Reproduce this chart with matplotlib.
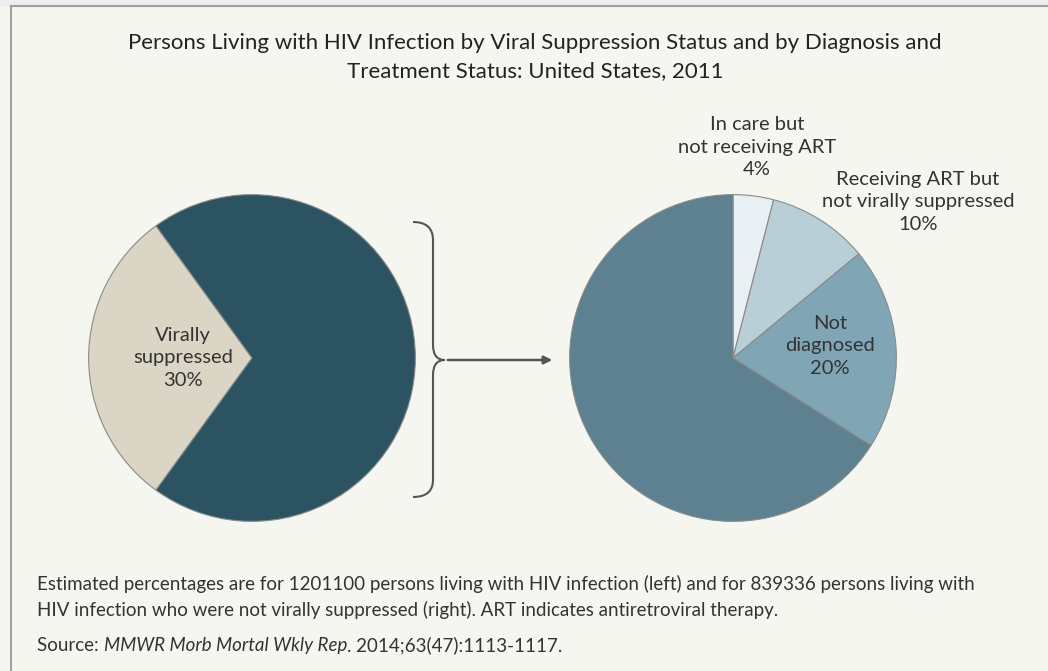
import matplotlib.pyplot as plt
from matplotlib.path import Path
from matplotlib.patches import PathPatch, Rectangle

# data
left_labels = ['Virally\nsuppressed\n30%', '']
left_values = [30, 70]
left_colors = ['#dbd5c6', '#2c5361']

right_labels = ['In care but\nnot receiving ART\n4%',
                'Receiving ART but\nnot virally suppressed\n10%',
                'Not\ndiagnosed\n20%', '']
right_values = [4, 10, 20, 66]
right_colors = ['#e8f0f4', '#b9cfd8', '#80a6b6', '#5d8190']

title = ('Persons Living with HIV Infection by Viral Suppression Status and by Diagnosis and\n'
         'Treatment Status: United States, 2011')
note = ('Estimated percentages are for 1201100 persons living with HIV infection (left) and for 839336 persons living with\n'
        'HIV infection who were not virally suppressed (right). ART indicates antiretroviral therapy.')
source = ['Source: ', 'MMWR Morb Mortal Wkly Rep', '. 2014;63(47):1113-1117.']

plt.rcParams['font.family'] = ['Lato', 'DejaVu Sans']
txt = '#333333'
W, H = 1048, 671

fig = plt.figure(figsize=(W / 100, H / 100), dpi=100, facecolor='#f6f6f1')


def overlay():
    a = fig.add_axes([0, 0, 1, 1])
    a.set_xlim(0, W)
    a.set_ylim(H, 0)
    a.axis('off')
    a.patch.set_alpha(0)
    return a


bg = overlay()
bg.add_patch(Rectangle((0, 0), W, 6, color='#eeeeee', zorder=0))
bg.plot([11, W], [6, 6], color='#a0a0a0', lw=1.5)
bg.plot([11, 11], [6, H], color='#a0a0a0', lw=1.5)


def pie_axes(cx, cy, r):
    return fig.add_axes([(cx - r) / W, (H - cy - r) / H, 2 * r / W, 2 * r / H])


ax1 = pie_axes(252, 358, 165)
ax1.pie(left_values, colors=left_colors, startangle=126, radius=1,
        wedgeprops=dict(edgecolor='#8a8a8a', linewidth=0.8))
ax1.set_xlim(-1.01, 1.01)
ax1.set_ylim(-1.01, 1.01)

ax2 = pie_axes(733, 358, 165)
ax2.pie(right_values, colors=right_colors, startangle=90, counterclock=False, radius=1,
        wedgeprops=dict(edgecolor='#8a8a8a', linewidth=0.8))
ax2.set_xlim(-1.01, 1.01)
ax2.set_ylim(-1.01, 1.01)

top = overlay()

# labels
lab = dict(ha='center', va='center', fontsize=14.5, color=txt, linespacing=1.4)
top.text(183, 358, left_labels[0], **lab)
top.text(757, 147, right_labels[0], **lab)
top.text(918, 202, right_labels[1], **lab)
top.text(830, 346, right_labels[2], **lab)

top.text(535, 57, title, ha='center', va='center', fontsize=16, color='#222222',
         linespacing=1.45)
top.text(37, 597, note, ha='left', va='center', fontsize=13.5, color=txt, linespacing=1.5)

# source line in three runs, the middle one italic
x = 37
fig.canvas.draw()
inv = top.transData.inverted()
for i, s in enumerate(source):
    t = top.text(x, 651, s, ha='left', va='baseline', fontsize=13.5, color=txt,
                 style='italic' if i == 1 else 'normal')
    bb = t.get_window_extent(renderer=fig.canvas.get_renderer())
    x = inv.transform((bb.x1, bb.y0))[0]

# brace and arrow
verts = [(413, 222), (433, 222), (433, 240), (433, 250),
         (433, 345),
         (433, 360), (445, 360),
         (433, 360), (433, 375),
         (433, 480),
         (433, 497), (413, 497)]
codes = [Path.MOVETO, Path.CURVE3, Path.CURVE3, Path.LINETO,
         Path.LINETO,
         Path.CURVE3, Path.CURVE3,
         Path.CURVE3, Path.CURVE3,
         Path.LINETO,
         Path.CURVE3, Path.CURVE3]
top.add_patch(PathPatch(Path(verts, codes), fill=False, edgecolor='#555555', lw=1.5))
top.annotate('', xy=(555, 360), xytext=(445, 360),
             arrowprops=dict(arrowstyle='-|>', color='#555555', lw=1.8, mutation_scale=12))

fig.savefig('out.png', dpi=100, facecolor=fig.get_facecolor())
